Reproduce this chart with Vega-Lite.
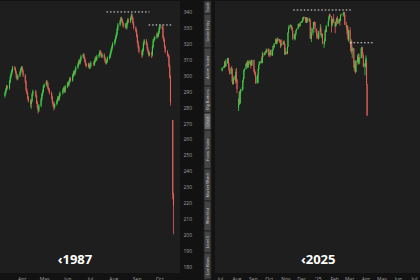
{
"$schema":"https://vega.github.io/schema/vega-lite/v6.json",
"background":"#121212",
"padding":0,
"spacing":11,
"config":{"view":{"stroke":null},"axis":{"grid":false,"domain":false,"ticks":false,"labelColor":"#a0a0a0","labelFontSize":5,"labelFont":"Open Sans","labelOverlap":false,"labelSeparation":0}},
"datasets":{
"a":[
{"d":"1987-03-10","o":287,"h":290,"l":286,"c":289},
{"d":"1987-03-11","o":289,"h":292,"l":288,"c":291},
{"d":"1987-03-12","o":291,"h":294,"l":290,"c":293},
{"d":"1987-03-13","o":293,"h":294,"l":291,"c":292},
{"d":"1987-03-16","o":292,"h":297,"l":291,"c":296},
{"d":"1987-03-17","o":296,"h":300,"l":295,"c":299},
{"d":"1987-03-18","o":299,"h":302,"l":298,"c":301},
{"d":"1987-03-19","o":301,"h":304,"l":300,"c":303},
{"d":"1987-03-20","o":303,"h":306,"l":302,"c":305},
{"d":"1987-03-23","o":305,"h":306,"l":303,"c":304},
{"d":"1987-03-24","o":304,"h":305,"l":301,"c":302},
{"d":"1987-03-25","o":302,"h":303,"l":298,"c":299},
{"d":"1987-03-26","o":299,"h":300,"l":297,"c":298},
{"d":"1987-03-27","o":298,"h":301,"l":297,"c":300},
{"d":"1987-03-30","o":300,"h":303,"l":299,"c":302},
{"d":"1987-03-31","o":302,"h":305,"l":301,"c":304},
{"d":"1987-04-01","o":304,"h":306,"l":303,"c":305},
{"d":"1987-04-02","o":305,"h":306,"l":302,"c":303},
{"d":"1987-04-03","o":303,"h":304,"l":299,"c":300},
{"d":"1987-04-06","o":300,"h":301,"l":295,"c":296},
{"d":"1987-04-07","o":296,"h":297,"l":290,"c":291},
{"d":"1987-04-08","o":291,"h":292,"l":288,"c":289},
{"d":"1987-04-09","o":289,"h":290,"l":285,"c":286},
{"d":"1987-04-10","o":286,"h":287,"l":283,"c":284},
{"d":"1987-04-13","o":284,"h":285,"l":280,"c":282},
{"d":"1987-04-14","o":282,"h":285,"l":279,"c":284},
{"d":"1987-04-15","o":284,"h":289,"l":283,"c":288},
{"d":"1987-04-16","o":288,"h":291,"l":287,"c":290},
{"d":"1987-04-20","o":290,"h":291,"l":286,"c":287},
{"d":"1987-04-21","o":287,"h":288,"l":282,"c":283},
{"d":"1987-04-22","o":283,"h":284,"l":279,"c":280},
{"d":"1987-04-23","o":280,"h":281,"l":276,"c":278},
{"d":"1987-04-24","o":278,"h":282,"l":277,"c":281},
{"d":"1987-04-27","o":281,"h":286,"l":280,"c":285},
{"d":"1987-04-28","o":285,"h":289,"l":284,"c":288},
{"d":"1987-04-29","o":288,"h":291,"l":287,"c":290},
{"d":"1987-04-30","o":290,"h":294,"l":289,"c":293},
{"d":"1987-05-01","o":293,"h":295,"l":292,"c":294},
{"d":"1987-05-04","o":294,"h":297,"l":293,"c":296},
{"d":"1987-05-05","o":296,"h":297,"l":294,"c":295},
{"d":"1987-05-06","o":295,"h":296,"l":291,"c":292},
{"d":"1987-05-07","o":292,"h":293,"l":290,"c":291},
{"d":"1987-05-08","o":291,"h":292,"l":288,"c":289},
{"d":"1987-05-11","o":289,"h":290,"l":285,"c":286},
{"d":"1987-05-12","o":286,"h":287,"l":282,"c":283},
{"d":"1987-05-13","o":283,"h":284,"l":280,"c":281},
{"d":"1987-05-14","o":281,"h":282,"l":278,"c":280},
{"d":"1987-05-15","o":280,"h":283,"l":279,"c":282},
{"d":"1987-05-18","o":282,"h":285,"l":281,"c":284},
{"d":"1987-05-19","o":284,"h":287,"l":283,"c":286},
{"d":"1987-05-20","o":286,"h":287,"l":284,"c":285},
{"d":"1987-05-21","o":285,"h":288,"l":284,"c":287},
{"d":"1987-05-22","o":287,"h":290,"l":286,"c":289},
{"d":"1987-05-26","o":289,"h":292,"l":288,"c":291},
{"d":"1987-05-27","o":291,"h":293,"l":290,"c":292},
{"d":"1987-05-28","o":292,"h":293,"l":289,"c":290},
{"d":"1987-05-29","o":290,"h":294,"l":289,"c":293},
{"d":"1987-06-01","o":293,"h":296,"l":292,"c":295},
{"d":"1987-06-02","o":295,"h":296,"l":293,"c":294},
{"d":"1987-06-03","o":294,"h":297,"l":293,"c":296},
{"d":"1987-06-04","o":296,"h":299,"l":295,"c":298},
{"d":"1987-06-05","o":298,"h":299,"l":296,"c":297},
{"d":"1987-06-08","o":297,"h":301,"l":296,"c":300},
{"d":"1987-06-09","o":300,"h":303,"l":299,"c":302},
{"d":"1987-06-10","o":302,"h":303,"l":300,"c":301},
{"d":"1987-06-11","o":301,"h":304,"l":300,"c":303},
{"d":"1987-06-12","o":303,"h":306,"l":302,"c":305},
{"d":"1987-06-15","o":305,"h":308,"l":304,"c":307},
{"d":"1987-06-16","o":307,"h":310,"l":306,"c":309},
{"d":"1987-06-17","o":309,"h":310,"l":307,"c":308},
{"d":"1987-06-18","o":308,"h":311,"l":307,"c":310},
{"d":"1987-06-19","o":310,"h":313,"l":309,"c":312},
{"d":"1987-06-22","o":312,"h":314,"l":311,"c":313},
{"d":"1987-06-23","o":313,"h":314,"l":310,"c":311},
{"d":"1987-06-24","o":311,"h":312,"l":308,"c":309},
{"d":"1987-06-25","o":309,"h":310,"l":306,"c":307},
{"d":"1987-06-26","o":307,"h":308,"l":305,"c":306},
{"d":"1987-06-29","o":306,"h":308,"l":305,"c":307},
{"d":"1987-06-30","o":307,"h":308,"l":304,"c":305},
{"d":"1987-07-01","o":305,"h":307,"l":304,"c":306},
{"d":"1987-07-02","o":306,"h":309,"l":305,"c":308},
{"d":"1987-07-06","o":308,"h":309,"l":306,"c":307},
{"d":"1987-07-07","o":307,"h":310,"l":306,"c":309},
{"d":"1987-07-08","o":309,"h":312,"l":308,"c":311},
{"d":"1987-07-09","o":311,"h":312,"l":309,"c":310},
{"d":"1987-07-10","o":310,"h":313,"l":309,"c":312},
{"d":"1987-07-13","o":312,"h":314,"l":311,"c":313},
{"d":"1987-07-14","o":313,"h":316,"l":312,"c":315},
{"d":"1987-07-15","o":315,"h":316,"l":313,"c":314},
{"d":"1987-07-16","o":314,"h":315,"l":311,"c":312},
{"d":"1987-07-17","o":312,"h":314,"l":311,"c":313},
{"d":"1987-07-20","o":313,"h":314,"l":310,"c":311},
{"d":"1987-07-21","o":311,"h":312,"l":308,"c":309},
{"d":"1987-07-22","o":309,"h":310,"l":307,"c":308},
{"d":"1987-07-23","o":308,"h":310,"l":307,"c":309},
{"d":"1987-07-24","o":309,"h":312,"l":308,"c":311},
{"d":"1987-07-27","o":311,"h":313,"l":310,"c":312},
{"d":"1987-07-28","o":312,"h":315,"l":311,"c":314},
{"d":"1987-07-29","o":314,"h":317,"l":313,"c":316},
{"d":"1987-07-30","o":316,"h":319,"l":315,"c":318},
{"d":"1987-07-31","o":318,"h":321,"l":317,"c":320},
{"d":"1987-08-03","o":320,"h":323,"l":319,"c":322},
{"d":"1987-08-04","o":322,"h":325,"l":321,"c":324},
{"d":"1987-08-05","o":324,"h":327,"l":323,"c":326},
{"d":"1987-08-06","o":326,"h":330,"l":325,"c":329},
{"d":"1987-08-07","o":329,"h":333,"l":328,"c":332},
{"d":"1987-08-10","o":332,"h":335,"l":331,"c":334},
{"d":"1987-08-11","o":334,"h":337,"l":333,"c":336},
{"d":"1987-08-12","o":336,"h":337,"l":334,"c":335},
{"d":"1987-08-13","o":335,"h":336,"l":332,"c":333},
{"d":"1987-08-14","o":333,"h":334,"l":330,"c":331},
{"d":"1987-08-17","o":331,"h":333,"l":330,"c":332},
{"d":"1987-08-18","o":332,"h":333,"l":329,"c":330},
{"d":"1987-08-19","o":330,"h":334,"l":329,"c":333},
{"d":"1987-08-20","o":333,"h":336,"l":332,"c":335},
{"d":"1987-08-21","o":335,"h":336,"l":333,"c":334},
{"d":"1987-08-24","o":334,"h":337,"l":333,"c":336},
{"d":"1987-08-25","o":336,"h":339,"l":335,"c":338},
{"d":"1987-08-26","o":338,"h":339,"l":335,"c":336},
{"d":"1987-08-27","o":336,"h":337,"l":332,"c":333},
{"d":"1987-08-28","o":333,"h":334,"l":329,"c":330},
{"d":"1987-08-31","o":330,"h":331,"l":327,"c":328},
{"d":"1987-09-01","o":328,"h":329,"l":324,"c":325},
{"d":"1987-09-02","o":325,"h":326,"l":320,"c":321},
{"d":"1987-09-03","o":321,"h":322,"l":317,"c":318},
{"d":"1987-09-04","o":318,"h":319,"l":314,"c":315},
{"d":"1987-09-08","o":315,"h":316,"l":311,"c":313},
{"d":"1987-09-09","o":313,"h":317,"l":312,"c":316},
{"d":"1987-09-10","o":316,"h":321,"l":315,"c":320},
{"d":"1987-09-11","o":320,"h":323,"l":319,"c":322},
{"d":"1987-09-14","o":322,"h":323,"l":319,"c":320},
{"d":"1987-09-15","o":320,"h":321,"l":316,"c":317},
{"d":"1987-09-16","o":317,"h":318,"l":314,"c":315},
{"d":"1987-09-17","o":315,"h":316,"l":312,"c":313},
{"d":"1987-09-18","o":313,"h":315,"l":312,"c":314},
{"d":"1987-09-21","o":314,"h":315,"l":311,"c":313},
{"d":"1987-09-22","o":313,"h":319,"l":312,"c":318},
{"d":"1987-09-23","o":318,"h":323,"l":317,"c":322},
{"d":"1987-09-24","o":322,"h":324,"l":321,"c":323},
{"d":"1987-09-25","o":323,"h":325,"l":322,"c":324},
{"d":"1987-09-28","o":324,"h":327,"l":323,"c":326},
{"d":"1987-09-29","o":326,"h":327,"l":324,"c":325},
{"d":"1987-09-30","o":325,"h":328,"l":324,"c":327},
{"d":"1987-10-01","o":327,"h":331,"l":326,"c":330},
{"d":"1987-10-02","o":330,"h":332,"l":329,"c":331},
{"d":"1987-10-05","o":331,"h":332,"l":329,"c":330},
{"d":"1987-10-06","o":330,"h":331,"l":323,"c":324},
{"d":"1987-10-07","o":324,"h":325,"l":321,"c":322},
{"d":"1987-10-08","o":322,"h":323,"l":317,"c":318},
{"d":"1987-10-09","o":318,"h":319,"l":314,"c":315},
{"d":"1987-10-12","o":315,"h":316,"l":312,"c":313},
{"d":"1987-10-13","o":313,"h":314,"l":311,"c":312},
{"d":"1987-10-14","o":312,"h":313,"l":305,"c":306},
{"d":"1987-10-15","o":306,"h":307,"l":298,"c":299},
{"d":"1987-10-16","o":299,"h":300,"l":281,"c":283},
{"d":"1987-10-19","o":272,"h":272,"l":222,"c":225},
{"d":"1987-10-20","o":225,"h":226,"l":200,"c":218}
],
"b":[
{"d":"2024-07-05","o":5537,"h":5570,"l":5530,"c":5567},
{"d":"2024-07-08","o":5567,"h":5584,"l":5562,"c":5572},
{"d":"2024-07-09","o":5572,"h":5590,"l":5565,"c":5577},
{"d":"2024-07-10","o":5577,"h":5635,"l":5570,"c":5633},
{"d":"2024-07-11","o":5633,"h":5642,"l":5575,"c":5585},
{"d":"2024-07-12","o":5585,"h":5655,"l":5580,"c":5615},
{"d":"2024-07-15","o":5615,"h":5666,"l":5610,"c":5631},
{"d":"2024-07-16","o":5631,"h":5670,"l":5625,"c":5667},
{"d":"2024-07-17","o":5667,"h":5670,"l":5580,"c":5588},
{"d":"2024-07-18","o":5588,"h":5615,"l":5530,"c":5544},
{"d":"2024-07-19","o":5544,"h":5557,"l":5497,"c":5505},
{"d":"2024-07-22","o":5505,"h":5570,"l":5500,"c":5564},
{"d":"2024-07-23","o":5564,"h":5585,"l":5550,"c":5555},
{"d":"2024-07-24","o":5555,"h":5560,"l":5420,"c":5427},
{"d":"2024-07-25","o":5427,"h":5490,"l":5390,"c":5399},
{"d":"2024-07-26","o":5399,"h":5475,"l":5395,"c":5459},
{"d":"2024-07-29","o":5459,"h":5487,"l":5445,"c":5463},
{"d":"2024-07-30","o":5463,"h":5480,"l":5405,"c":5436},
{"d":"2024-07-31","o":5436,"h":5551,"l":5430,"c":5522},
{"d":"2024-08-01","o":5522,"h":5566,"l":5410,"c":5446},
{"d":"2024-08-02","o":5446,"h":5450,"l":5305,"c":5347},
{"d":"2024-08-05","o":5151,"h":5250,"l":5119,"c":5186},
{"d":"2024-08-06","o":5186,"h":5312,"l":5180,"c":5240},
{"d":"2024-08-07","o":5240,"h":5330,"l":5195,"c":5199},
{"d":"2024-08-08","o":5199,"h":5328,"l":5195,"c":5319},
{"d":"2024-08-09","o":5319,"h":5350,"l":5300,"c":5344},
{"d":"2024-08-12","o":5344,"h":5370,"l":5325,"c":5344},
{"d":"2024-08-13","o":5344,"h":5436,"l":5340,"c":5434},
{"d":"2024-08-14","o":5434,"h":5463,"l":5420,"c":5455},
{"d":"2024-08-15","o":5455,"h":5546,"l":5450,"c":5543},
{"d":"2024-08-16","o":5543,"h":5561,"l":5530,"c":5554},
{"d":"2024-08-19","o":5554,"h":5609,"l":5550,"c":5608},
{"d":"2024-08-20","o":5608,"h":5620,"l":5585,"c":5597},
{"d":"2024-08-21","o":5597,"h":5633,"l":5590,"c":5621},
{"d":"2024-08-22","o":5621,"h":5644,"l":5565,"c":5571},
{"d":"2024-08-23","o":5571,"h":5642,"l":5570,"c":5635},
{"d":"2024-08-26","o":5635,"h":5651,"l":5600,"c":5616},
{"d":"2024-08-27","o":5616,"h":5635,"l":5600,"c":5625},
{"d":"2024-08-28","o":5625,"h":5630,"l":5560,"c":5592},
{"d":"2024-08-29","o":5592,"h":5646,"l":5585,"c":5592},
{"d":"2024-08-30","o":5592,"h":5651,"l":5585,"c":5648},
{"d":"2024-09-03","o":5648,"h":5650,"l":5520,"c":5529},
{"d":"2024-09-04","o":5529,"h":5552,"l":5505,"c":5520},
{"d":"2024-09-05","o":5520,"h":5540,"l":5480,"c":5503},
{"d":"2024-09-06","o":5503,"h":5523,"l":5402,"c":5408},
{"d":"2024-09-09","o":5408,"h":5484,"l":5405,"c":5471},
{"d":"2024-09-10","o":5471,"h":5497,"l":5420,"c":5496},
{"d":"2024-09-11","o":5496,"h":5561,"l":5406,"c":5554},
{"d":"2024-09-12","o":5554,"h":5600,"l":5545,"c":5596},
{"d":"2024-09-13","o":5596,"h":5636,"l":5595,"c":5626},
{"d":"2024-09-16","o":5626,"h":5637,"l":5608,"c":5634},
{"d":"2024-09-17","o":5634,"h":5670,"l":5615,"c":5634},
{"d":"2024-09-18","o":5634,"h":5690,"l":5615,"c":5618},
{"d":"2024-09-19","o":5618,"h":5733,"l":5615,"c":5714},
{"d":"2024-09-20","o":5714,"h":5715,"l":5675,"c":5703},
{"d":"2024-09-23","o":5703,"h":5722,"l":5695,"c":5718},
{"d":"2024-09-24","o":5718,"h":5735,"l":5700,"c":5732},
{"d":"2024-09-25","o":5732,"h":5741,"l":5715,"c":5722},
{"d":"2024-09-26","o":5722,"h":5767,"l":5720,"c":5745},
{"d":"2024-09-27","o":5745,"h":5764,"l":5727,"c":5738},
{"d":"2024-09-30","o":5738,"h":5765,"l":5700,"c":5762},
{"d":"2024-10-01","o":5762,"h":5765,"l":5680,"c":5709},
{"d":"2024-10-02","o":5709,"h":5727,"l":5690,"c":5709},
{"d":"2024-10-03","o":5709,"h":5715,"l":5675,"c":5699},
{"d":"2024-10-04","o":5699,"h":5753,"l":5695,"c":5751},
{"d":"2024-10-07","o":5751,"h":5755,"l":5690,"c":5696},
{"d":"2024-10-08","o":5696,"h":5757,"l":5690,"c":5751},
{"d":"2024-10-09","o":5751,"h":5797,"l":5745,"c":5792},
{"d":"2024-10-10","o":5792,"h":5795,"l":5764,"c":5780},
{"d":"2024-10-11","o":5780,"h":5822,"l":5775,"c":5815},
{"d":"2024-10-14","o":5815,"h":5871,"l":5815,"c":5859},
{"d":"2024-10-15","o":5859,"h":5870,"l":5810,"c":5815},
{"d":"2024-10-16","o":5815,"h":5846,"l":5810,"c":5842},
{"d":"2024-10-17","o":5842,"h":5879,"l":5835,"c":5841},
{"d":"2024-10-18","o":5841,"h":5878,"l":5840,"c":5864},
{"d":"2024-10-21","o":5864,"h":5866,"l":5825,"c":5853},
{"d":"2024-10-22","o":5853,"h":5863,"l":5820,"c":5851},
{"d":"2024-10-23","o":5851,"h":5852,"l":5770,"c":5797},
{"d":"2024-10-24","o":5797,"h":5817,"l":5784,"c":5809},
{"d":"2024-10-25","o":5809,"h":5862,"l":5800,"c":5808},
{"d":"2024-10-28","o":5808,"h":5843,"l":5805,"c":5823},
{"d":"2024-10-29","o":5823,"h":5847,"l":5810,"c":5832},
{"d":"2024-10-30","o":5832,"h":5850,"l":5810,"c":5813},
{"d":"2024-10-31","o":5813,"h":5815,"l":5700,"c":5705},
{"d":"2024-11-01","o":5705,"h":5773,"l":5705,"c":5728},
{"d":"2024-11-04","o":5728,"h":5741,"l":5704,"c":5712},
{"d":"2024-11-05","o":5712,"h":5783,"l":5712,"c":5782},
{"d":"2024-11-06","o":5782,"h":5936,"l":5780,"c":5929},
{"d":"2024-11-07","o":5929,"h":5983,"l":5925,"c":5973},
{"d":"2024-11-08","o":5973,"h":6012,"l":5970,"c":5996},
{"d":"2024-11-11","o":5996,"h":6017,"l":5986,"c":6001},
{"d":"2024-11-12","o":6001,"h":6010,"l":5965,"c":5983},
{"d":"2024-11-13","o":5983,"h":6008,"l":5965,"c":5985},
{"d":"2024-11-14","o":5985,"h":5990,"l":5945,"c":5949},
{"d":"2024-11-15","o":5949,"h":5950,"l":5853,"c":5871},
{"d":"2024-11-18","o":5871,"h":5909,"l":5865,"c":5893},
{"d":"2024-11-19","o":5893,"h":5920,"l":5850,"c":5917},
{"d":"2024-11-20","o":5917,"h":5925,"l":5860,"c":5917},
{"d":"2024-11-21","o":5917,"h":5960,"l":5900,"c":5948},
{"d":"2024-11-22","o":5948,"h":5972,"l":5945,"c":5969},
{"d":"2024-11-25","o":5969,"h":6020,"l":5965,"c":5987},
{"d":"2024-11-26","o":5987,"h":6025,"l":5985,"c":6021},
{"d":"2024-11-27","o":6021,"h":6025,"l":5985,"c":5998},
{"d":"2024-11-29","o":5998,"h":6044,"l":5995,"c":6032},
{"d":"2024-12-02","o":6032,"h":6053,"l":6030,"c":6047},
{"d":"2024-12-03","o":6047,"h":6055,"l":6035,"c":6050},
{"d":"2024-12-04","o":6050,"h":6087,"l":6050,"c":6086},
{"d":"2024-12-05","o":6086,"h":6086,"l":6068,"c":6075},
{"d":"2024-12-06","o":6075,"h":6099,"l":6074,"c":6090},
{"d":"2024-12-09","o":6090,"h":6090,"l":6045,"c":6052},
{"d":"2024-12-10","o":6052,"h":6065,"l":6028,"c":6034},
{"d":"2024-12-11","o":6034,"h":6092,"l":6030,"c":6084},
{"d":"2024-12-12","o":6084,"h":6085,"l":6049,"c":6051},
{"d":"2024-12-13","o":6051,"h":6078,"l":6035,"c":6051},
{"d":"2024-12-16","o":6051,"h":6086,"l":6050,"c":6074},
{"d":"2024-12-17","o":6074,"h":6075,"l":6040,"c":6050},
{"d":"2024-12-18","o":6050,"h":6070,"l":5867,"c":5872},
{"d":"2024-12-19","o":5872,"h":5935,"l":5865,"c":5867},
{"d":"2024-12-20","o":5867,"h":5982,"l":5832,"c":5930},
{"d":"2024-12-23","o":5930,"h":5978,"l":5902,"c":5974},
{"d":"2024-12-24","o":5974,"h":6041,"l":5970,"c":6040},
{"d":"2024-12-26","o":6040,"h":6049,"l":6007,"c":6037},
{"d":"2024-12-27","o":6037,"h":6040,"l":5932,"c":5971},
{"d":"2024-12-30","o":5971,"h":5972,"l":5870,"c":5907},
{"d":"2024-12-31","o":5907,"h":5929,"l":5869,"c":5882},
{"d":"2025-01-02","o":5882,"h":5950,"l":5855,"c":5869},
{"d":"2025-01-03","o":5869,"h":5949,"l":5868,"c":5942},
{"d":"2025-01-06","o":5942,"h":6021,"l":5940,"c":5975},
{"d":"2025-01-07","o":5975,"h":6000,"l":5897,"c":5909},
{"d":"2025-01-08","o":5909,"h":5927,"l":5875,"c":5918},
{"d":"2025-01-10","o":5918,"h":5920,"l":5809,"c":5827},
{"d":"2025-01-13","o":5827,"h":5840,"l":5773,"c":5837},
{"d":"2025-01-14","o":5837,"h":5871,"l":5807,"c":5843},
{"d":"2025-01-15","o":5843,"h":5961,"l":5840,"c":5950},
{"d":"2025-01-16","o":5950,"h":5964,"l":5930,"c":5937},
{"d":"2025-01-17","o":5937,"h":6011,"l":5935,"c":5997},
{"d":"2025-01-21","o":5997,"h":6051,"l":5995,"c":6049},
{"d":"2025-01-22","o":6049,"h":6100,"l":6045,"c":6086},
{"d":"2025-01-23","o":6086,"h":6119,"l":6075,"c":6119},
{"d":"2025-01-24","o":6119,"h":6128,"l":6089,"c":6101},
{"d":"2025-01-27","o":6101,"h":6101,"l":5932,"c":6012},
{"d":"2025-01-28","o":6012,"h":6070,"l":5994,"c":6068},
{"d":"2025-01-29","o":6068,"h":6070,"l":6012,"c":6039},
{"d":"2025-01-30","o":6039,"h":6087,"l":6033,"c":6071},
{"d":"2025-01-31","o":6071,"h":6121,"l":6030,"c":6041},
{"d":"2025-02-03","o":6041,"h":6042,"l":5923,"c":5994},
{"d":"2025-02-04","o":5994,"h":6042,"l":5990,"c":6038},
{"d":"2025-02-05","o":6038,"h":6062,"l":6007,"c":6061},
{"d":"2025-02-06","o":6061,"h":6084,"l":6062,"c":6084},
{"d":"2025-02-07","o":6084,"h":6101,"l":6020,"c":6026},
{"d":"2025-02-10","o":6026,"h":6074,"l":6025,"c":6066},
{"d":"2025-02-11","o":6066,"h":6076,"l":6042,"c":6069},
{"d":"2025-02-12","o":6069,"h":6070,"l":6003,"c":6052},
{"d":"2025-02-13","o":6052,"h":6116,"l":6051,"c":6115},
{"d":"2025-02-14","o":6115,"h":6127,"l":6107,"c":6115},
{"d":"2025-02-18","o":6115,"h":6129,"l":6099,"c":6129},
{"d":"2025-02-19","o":6129,"h":6147,"l":6111,"c":6144},
{"d":"2025-02-20","o":6144,"h":6145,"l":6089,"c":6118},
{"d":"2025-02-21","o":6118,"h":6120,"l":6009,"c":6013},
{"d":"2025-02-24","o":6013,"h":6043,"l":5977,"c":5983},
{"d":"2025-02-25","o":5983,"h":5992,"l":5908,"c":5955},
{"d":"2025-02-26","o":5955,"h":6009,"l":5932,"c":5956},
{"d":"2025-02-27","o":5956,"h":5994,"l":5858,"c":5861},
{"d":"2025-02-28","o":5861,"h":5959,"l":5837,"c":5955},
{"d":"2025-03-03","o":5955,"h":5986,"l":5810,"c":5850},
{"d":"2025-03-04","o":5850,"h":5865,"l":5732,"c":5778},
{"d":"2025-03-05","o":5778,"h":5860,"l":5743,"c":5843},
{"d":"2025-03-06","o":5843,"h":5845,"l":5711,"c":5739},
{"d":"2025-03-07","o":5739,"h":5783,"l":5667,"c":5770},
{"d":"2025-03-10","o":5770,"h":5772,"l":5564,"c":5615},
{"d":"2025-03-11","o":5615,"h":5636,"l":5529,"c":5572},
{"d":"2025-03-12","o":5572,"h":5642,"l":5546,"c":5599},
{"d":"2025-03-13","o":5599,"h":5600,"l":5505,"c":5522},
{"d":"2025-03-14","o":5522,"h":5645,"l":5520,"c":5639},
{"d":"2025-03-17","o":5639,"h":5703,"l":5631,"c":5675},
{"d":"2025-03-18","o":5675,"h":5677,"l":5597,"c":5615},
{"d":"2025-03-19","o":5615,"h":5715,"l":5610,"c":5675},
{"d":"2025-03-20","o":5675,"h":5711,"l":5632,"c":5663},
{"d":"2025-03-21","o":5663,"h":5670,"l":5603,"c":5668},
{"d":"2025-03-24","o":5668,"h":5775,"l":5665,"c":5768},
{"d":"2025-03-25","o":5768,"h":5786,"l":5765,"c":5777},
{"d":"2025-03-26","o":5777,"h":5783,"l":5695,"c":5712},
{"d":"2025-03-27","o":5712,"h":5732,"l":5670,"c":5693},
{"d":"2025-03-28","o":5693,"h":5695,"l":5572,"c":5581},
{"d":"2025-03-31","o":5581,"h":5613,"l":5489,"c":5612},
{"d":"2025-04-01","o":5612,"h":5651,"l":5574,"c":5633},
{"d":"2025-04-02","o":5633,"h":5695,"l":5571,"c":5671},
{"d":"2025-04-03","o":5620,"h":5640,"l":5390,"c":5397},
{"d":"2025-04-04","o":5397,"h":5400,"l":5069,"c":5074}
],
"tabs":[
{"s":0,"e":13,"t":"Trade"},
{"s":13,"e":47,"t":"Order Entry"},
{"s":47,"e":85,"t":"Active Trader"},
{"s":85,"e":112,"t":"Big Buttons"},
{"s":112,"e":129,"t":"Chart"},
{"s":129,"e":168,"t":"Forex Trader"},
{"s":168,"e":200,"t":"Market Watch"},
{"s":200,"e":230,"t":"Watchlist"},
{"s":230,"e":252,"t":"Level II"},
{"s":252,"e":278,"t":"Live News"}
]
},
"hconcat":[
{
"width":180,"height":272,
"view":{"fill":"#1e1e1e","stroke":null},
"encoding":{
"x":{"field":"d","type":"temporal","scale":{"type":"utc","domain":[{"year":1987,"month":3,"date":10,"utc":true},{"year":1987,"month":10,"date":22,"utc":true}]},
"axis":{"title":null,"tickCount":{"interval":"month","step":1},"labelExpr":"utcFormat(datum.value, '%b')","labelPadding":3,"labelFlush":false}},
"y":{"field":"l","type":"quantitative","scale":{"domain":[175.6,346.9],"nice":false,"zero":false},
"axis":{"title":null,"orient":"right","values":[180,190,200,210,220,230,240,250,260,270,280,290,300,310,320,330,340],"labelPadding":3,"labelFlush":false}}
},
"layer":[
{"data":{"name":"a"},"mark":{"type":"rule","strokeWidth":0.8},
"encoding":{
"y2":{"field":"h"},
"color":{"condition":{"test":"datum.c >= datum.o","value":"#3fcf47"},"value":"#e0605a"}}},
{"data":{"name":"a"},"mark":{"type":"bar","width":1.1},
"encoding":{
"y":{"field":"o","type":"quantitative"},
"y2":{"field":"c"},
"color":{"condition":{"test":"datum.c >= datum.o","value":"#3fcf47"},"value":"#e0605a"}}},
{"data":{"values":[{"a":"1987-07-23","b":"1987-09-18","v":340},{"a":"1987-09-17","b":"1987-10-17","v":331.8}]},
"mark":{"type":"rule","strokeDash":[1.5,2],"color":"#e8e8e8","strokeWidth":1},
"encoding":{"x":{"field":"a","type":"temporal"},"x2":{"field":"b"},"y":{"field":"v","type":"quantitative"}}},
{"data":{"values":[{"d":"1987-06-11","v":183.8,"t":"‹1987"}]},
"mark":{"type":"text","fontSize":13,"fontWeight":"bold","color":"#ffffff","font":"Open Sans","align":"center","baseline":"middle"},
"encoding":{"y":{"field":"v","type":"quantitative"},"text":{"field":"t"}}}
]
},
{
"spacing":3,
"hconcat":[
{
"width":7,"height":280,
"data":{"name":"tabs"},
"view":{"fill":"#2a2a2a","stroke":null},
"layer":[
{"mark":{"type":"rect","stroke":"#202020","strokeWidth":1},
"encoding":{
"y":{"field":"s","type":"quantitative","scale":{"domain":[0,280],"reverse":true,"nice":false,"zero":false},"axis":null},
"y2":{"field":"e"},
"color":{"condition":{"test":"datum.t === 'Chart'","value":"#6a6a6a"},"value":"#444444"}}},
{"transform":[{"calculate":"(datum.s + datum.e) / 2","as":"m"}],
"mark":{"type":"text","angle":270,"fontSize":3.8,"color":"#c8c8c8","font":"Open Sans","align":"center","baseline":"middle"},
"encoding":{"y":{"field":"m","type":"quantitative","axis":null},"text":{"field":"t"}}}
]
},
{
"width":207,"height":272,
"view":{"fill":"#1e1e1e","stroke":null},
"layer":[
{"data":{"name":"b"},"mark":{"type":"rule","strokeWidth":0.8},
"encoding":{
"x":{"field":"d","type":"temporal","scale":{"type":"utc","domain":[{"year":2024,"month":7,"date":1,"utc":true},{"year":2025,"month":7,"date":7,"utc":true}]},
"axis":{"title":null,"tickCount":{"interval":"month","step":1},"labelExpr":"utcmonth(datum.value) == 0 ? \"'25\" : utcFormat(datum.value, '%b')","labelPadding":3,"labelFlush":false}},
"y":{"field":"l","type":"quantitative","scale":{"domain":[3443,6258],"nice":false,"zero":false},"axis":null},
"y2":{"field":"h"},
"color":{"condition":{"test":"datum.c >= datum.o","value":"#3fcf47"},"value":"#e0605a"}}},
{"data":{"name":"b"},"mark":{"type":"bar","width":1},
"encoding":{
"x":{"field":"d","type":"temporal"},
"y":{"field":"o","type":"quantitative"},
"y2":{"field":"c"},
"color":{"condition":{"test":"datum.c >= datum.o","value":"#3fcf47"},"value":"#e0605a"}}},
{"data":{"values":[{"a":"2024-11-16","b":"2025-03-05","v":6165},{"a":"2025-03-03","b":"2025-04-15","v":5826}]},
"mark":{"type":"rule","strokeDash":[1.5,2],"color":"#e8e8e8","strokeWidth":1},
"encoding":{"x":{"field":"a","type":"temporal"},"x2":{"field":"b"},"y":{"field":"v","type":"quantitative"}}},
{"data":{"values":[{"d":"2025-01-02","v":3577,"t":"‹2025"}]},
"mark":{"type":"text","fontSize":13,"fontWeight":"bold","color":"#ffffff","font":"Open Sans","align":"center","baseline":"middle"},
"encoding":{"x":{"field":"d","type":"temporal"},"y":{"field":"v","type":"quantitative"},"text":{"field":"t"}}}
]
}
]
}
]
}
